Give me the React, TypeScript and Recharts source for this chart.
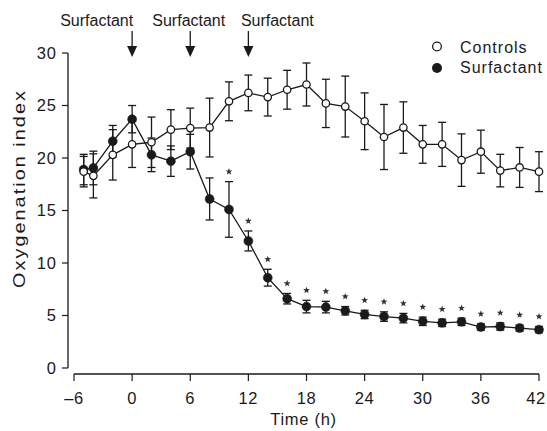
import React from "react";
import {
  LineChart,
  Line,
  XAxis,
  YAxis,
  ErrorBar,
  ReferenceLine,
  ReferenceDot,
  Legend,
} from "recharts";

// Time points (h) and mean ± error
const hours = [-5, -4, -2, 0, 2, 4, 6, 8, 10, 12, 14, 16, 18, 20, 22, 24, 26, 28, 30, 32, 34, 36, 38, 40, 42];
const controls = [18.7, 18.3, 20.3, 21.3, 21.5, 22.7, 22.85, 22.9, 25.4, 26.2, 25.8, 26.5, 27.0, 25.2, 24.9, 23.5, 22.0, 22.9, 21.3, 21.3, 19.8, 20.6, 18.8, 19.1, 18.7];
const controlsErr = [1.45, 2.1, 2.4, 2.2, 2.4, 1.9, 1.9, 2.8, 1.85, 1.7, 1.8, 1.85, 2.05, 2.3, 2.9, 2.7, 3.1, 2.45, 1.8, 2.1, 2.5, 2.05, 1.55, 1.9, 1.9];
const surfactant = [18.9, 19.05, 21.6, 23.7, 20.3, 19.7, 20.6, 16.1, 15.1, 12.1, 8.6, 6.6, 5.85, 5.8, 5.45, 5.1, 4.9, 4.75, 4.45, 4.3, 4.4, 3.9, 3.95, 3.8, 3.65];
const surfactantErr = [1.45, 1.6, 1.5, 1.3, 1.6, 1.45, 1.65, 2.0, 2.65, 0.95, 0.8, 0.5, 0.6, 0.55, 0.4, 0.4, 0.45, 0.45, 0.4, 0.35, 0.35, 0.3, 0.35, 0.3, 0.3];
const starredHours = [10, 12, 14, 16, 18, 20, 22, 24, 26, 28, 30, 32, 34, 36, 38, 40, 42];
const doseHours = [0, 6, 12];
const xTicks = [-6, 0, 6, 12, 18, 24, 30, 36, 42];
const yTicks = [0, 5, 10, 15, 20, 25, 30];

const data = hours.map((t, i) => ({
  t,
  controls: controls[i],
  controlsErr: controlsErr[i],
  surfactant: surfactant[i],
  surfactantErr: surfactantErr[i],
  star: starredHours.includes(t),
}));

const INK = "#1a1a1a";
const FONT = "'Liberation Sans', Arial, Helvetica, sans-serif";
const GAP = 6; // axes are detached from the data area

const fmtX = (v: number) => (v < 0 ? `\u2013${-v}` : `${v}`);

// arrow + "Surfactant" over each dose
const doseAnchor = ["end", "middle", "start"];
const doseDx = [1, -1.5, -7.5];

function renderDose(i: number) {
  return (props: any) => {
    const { cx, cy } = props;
    return (
      <g>
        <text
          x={cx + doseDx[i]}
          y={cy - 27}
          textAnchor={doseAnchor[i] as any}
          fontSize={16}
          fill={INK}
          fontFamily={FONT}
        >
          Surfactant
        </text>
        <line x1={cx} y1={cy - 22} x2={cx} y2={cy - 6} stroke={INK} strokeWidth={1.3} />
        <path d={`M${cx - 5},${cy - 7} L${cx + 5},${cy - 7} L${cx},${cy + 4} Z`} fill={INK} />
      </g>
    );
  };
}

// small five-point star
function starPath(cx: number, cy: number, ro = 3.6, ri = 1.5) {
  const pts: string[] = [];
  for (let k = 0; k < 10; k++) {
    const r = k % 2 === 0 ? ro : ri;
    const a = -Math.PI / 2 + (k * Math.PI) / 5;
    pts.push(`${(cx + r * Math.cos(a)).toFixed(2)},${(cy + r * Math.sin(a)).toFixed(2)}`);
  }
  return `M${pts.join("L")}Z`;
}

function renderStar(props: any) {
  const { cx, cy, index } = props;
  if (cx == null || cy == null || !data[index] || !data[index].star) return <g key={`s-${index}`} />;
  return <path key={`s-${index}`} d={starPath(cx, cy - 10)} fill="#333" />;
}

function XTick(props: any) {
  const { x, y, payload } = props;
  const last = payload.value === xTicks[xTicks.length - 1];
  return (
    <text
      x={x + (last ? -3 : 0)}
      y={y}
      dy="0.71em"
      textAnchor="middle"
      fontSize={16.5}
      letterSpacing={0.6}
      fill={INK}
      fontFamily={FONT}
    >
      {fmtX(payload.value)}
    </text>
  );
}

function renderLegend() {
  return (
    <svg width={122} height={46} style={{ overflow: "visible" }}>
      <circle cx={12} cy={12.5} r={4.4} fill="#fff" stroke={INK} strokeWidth={1.3} />
      <text x={35} y={19} fontSize={16} letterSpacing={1} fill={INK} fontFamily={FONT}>
        Controls
      </text>
      <circle cx={12} cy={34} r={5} fill={INK} />
      <text x={35} y={39.3} fontSize={16} letterSpacing={1} fill={INK} fontFamily={FONT}>
        Surfactant
      </text>
    </svg>
  );
}

function renderYLabel(props: any) {
  const vb = props.viewBox || { x: 0, y: 53, width: 68, height: 321 };
  const x = vb.x + 18.5;
  const y = vb.y + vb.height / 2 - 24;
  return (
    <text
      transform={`translate(${x},${y}) rotate(-90) scale(1.2,1)`}
      x={0}
      y={6}
      textAnchor="middle"
      fontSize={16.5}
      textLength={164}
      lengthAdjust="spacing"
      fill={INK}
      fontFamily={FONT}
    >
      Oxygenation index
    </text>
  );
}

function renderXLabel(props: any) {
  const vb = props.viewBox || { x: 68, y: 374, width: 471, height: 57 };
  return (
    <text
      x={vb.x + vb.width / 2}
      y={vb.y + 51}
      textAnchor="middle"
      fontSize={16.5}
      letterSpacing={0.7}
      fill={INK}
      fontFamily={FONT}
    >
      Time (h)
    </text>
  );
}

export default function App() {
  return (
    <div
      style={{
        position: "absolute",
        left: 0,
        top: 0,
        width: 547,
        height: 431,
        background: "#fff",
        fontFamily: FONT,
      }}
    >
      <LineChart
        width={547}
        height={431}
        data={data}
        margin={{ top: 53, right: 8, bottom: 0, left: 0 }}
      >
        <XAxis
          dataKey="t"
          type="number"
          domain={[-6, 42]}
          ticks={xTicks}
          padding={{ left: GAP, right: 0 }}
          axisLine={false}
          tickLine={{ stroke: INK, strokeWidth: 1.2 }}
          tickSize={7}
          tickMargin={11}
          height={57}
          tick={<XTick />}
          interval={0}
          label={renderXLabel}
        />
        <YAxis
          type="number"
          domain={[0, 30]}
          ticks={yTicks}
          padding={{ top: 0, bottom: GAP }}
          axisLine={false}
          tickLine={{ stroke: INK, strokeWidth: 1.2 }}
          tickSize={6}
          tickMargin={5}
          width={68}
          tick={{ fontSize: 16.5, fill: INK, fontFamily: FONT, letterSpacing: 1 }}
          interval={0}
          label={renderYLabel}
        />

        {/* range-frame axis lines, offset from the data */}
        <ReferenceLine
          segment={[{ x: -6, y: 0 }, { x: 42, y: 0 }]}
          ifOverflow="visible"
          shape={(p: any) => (
            <line x1={p.x1} y1={p.y1 + GAP} x2={p.x2} y2={p.y2 + GAP} stroke={INK} strokeWidth={1.3} />
          )}
        />
        <ReferenceLine
          segment={[{ x: -6, y: 0 }, { x: -6, y: 30 }]}
          ifOverflow="visible"
          shape={(p: any) => (
            <line x1={p.x1 - GAP} y1={p.y1} x2={p.x2 - GAP} y2={p.y2} stroke={INK} strokeWidth={1.3} />
          )}
        />

        {doseHours.map((h, i) => (
          <ReferenceDot key={`dose-${h}`} x={h} y={30} ifOverflow="visible" shape={renderDose(i)} />
        ))}

        <Line
          type="linear"
          dataKey="surfactant"
          name="Surfactant"
          stroke={INK}
          strokeWidth={1.3}
          dot={{ r: 4.5, fill: INK, stroke: INK, strokeWidth: 0.5 }}
          activeDot={false}
          isAnimationActive={false}
        >
          <ErrorBar dataKey="surfactantErr" width={4} stroke={INK} strokeWidth={1.3} direction="y" />
        </Line>
        <Line
          type="linear"
          dataKey="controls"
          name="Controls"
          stroke={INK}
          strokeWidth={1.3}
          dot={{ r: 3.7, fill: "#fff", stroke: INK, strokeWidth: 1.3 }}
          activeDot={false}
          isAnimationActive={false}
        >
          <ErrorBar dataKey="controlsErr" width={4} stroke={INK} strokeWidth={1.3} direction="y" />
        </Line>

        {/* significance markers above the surfactant error bars */}
        <Line
          type="linear"
          dataKey={(d: any) => (d.star ? d.surfactant + d.surfactantErr : null)}
          stroke="none"
          dot={renderStar}
          activeDot={false}
          legendType="none"
          isAnimationActive={false}
        />

        <Legend
          layout="vertical"
          align="center"
          verticalAlign="middle"
          content={renderLegend}
          wrapperStyle={{ position: "absolute", left: 425, top: 34, width: 122, height: 46 }}
        />
      </LineChart>
    </div>
  );
}
